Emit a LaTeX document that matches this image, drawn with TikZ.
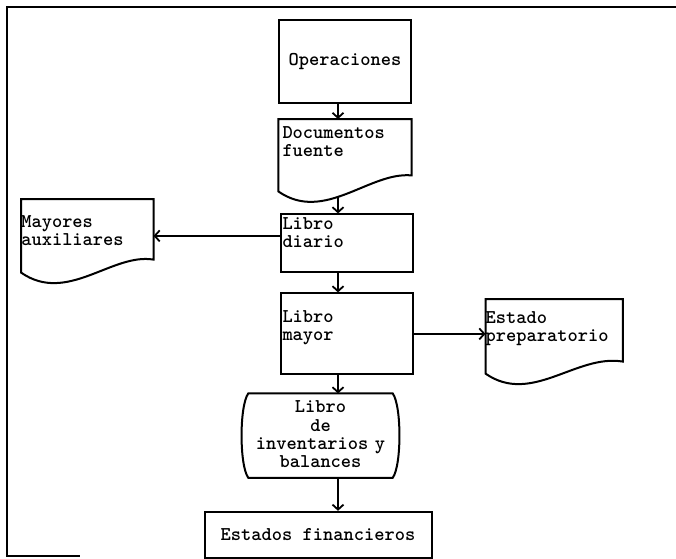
\documentclass[tikz,border=0pt]{standalone}
\usepackage{fontspec}
\usetikzlibrary{arrows.meta,positioning,calc}

% document symbol: straight top and sides, wavy bottom
\newcommand{\docoutline}[2]{%
  \draw[line] ($(#1.south east)+(0,-#2)$) -- (#1.north east) -- (#1.north west) -- (#1.south west)
    .. controls ($(#1.south west)+(46,32)$) and ($(#1.south west)+(91,-20)$) .. cycle;}

\begin{document}
\begin{tikzpicture}[
  x=1pt, y=-1pt,
  line/.style={line width=2pt},
  txt/.style={font=\ttfamily\bfseries\fontsize{19.5}{18.4}\selectfont},
  box/.style={txt, line, draw, rectangle, inner ysep=0pt, align=left},
  docbox/.style={txt, rectangle, inner ysep=0pt, inner xsep=0pt, align=left},
  arrow/.style={line, -{Straight Barb[length=5pt, width=11pt, line width=1.8pt]}}
]
\useasboundingbox (0,0) rectangle (676,558);

% frame of the scan
\draw[line] (676,7) -- (7,7) -- (7,556) -- (80,556);

\node[box, align=center, minimum width=132pt, minimum height=83pt] (ops) at (345,61.5) {Operaciones};
\node[docbox, text width=125pt, inner xsep=4pt, text height=19pt, text depth=53pt,
      below=15pt of ops] (docs) {Documentos\\fuente};
\node[box, text width=128pt, inner xsep=2pt, text height=15pt, text depth=43pt,
      below=22pt of docs, xshift=1.5pt] (diario) {Libro\\diario};
\node[box, text width=128pt, inner xsep=2pt, text height=29pt, text depth=52pt,
      below=19pt of diario] (mayor) {Libro\\mayor};
\node[docbox, text width=132pt, text height=28pt, text depth=45pt,
      left=126pt of diario, yshift=7.5pt] (mayores) {Mayores\\auxiliares};
\node[docbox, text width=137pt, text height=24pt, text depth=50pt,
      right=72pt of mayor, yshift=-2.5pt] (estado) {Estado\\preparatorio};
\node[txt, align=center, text width=162pt, inner sep=0pt, text height=19pt, text depth=65pt,
      below=18pt of mayor, xshift=-26pt] (inv) {Libro\\de\\inventarios y\\balances};
\node[box, align=center, minimum width=227pt, minimum height=46pt,
      below=33pt of inv, xshift=-2.5pt] (fin) {Estados financieros};

\docoutline{docs}{16}
\docoutline{mayores}{13}
\docoutline{estado}{12}
\draw[line] ($(inv.north west)+(9,0)$) -- ($(inv.north east)+(-9,0)$)
  .. controls ($(inv.east)+(0,-30)$) and ($(inv.east)+(0,30)$) .. ($(inv.south east)+(-9,0)$)
  -- ($(inv.south west)+(9,0)$)
  .. controls ($(inv.west)+(0,30)$) and ($(inv.west)+(0,-30)$) .. cycle;

\coordinate (spine) at (338,0);
\draw[arrow] (ops.south -| spine) -- (docs.north -| spine);
\draw[arrow, shorten <=6pt] (docs.south -| spine) -- (diario.north -| spine);
\draw[arrow] (diario.south -| spine) -- (mayor.north -| spine);
\draw[arrow] (mayor.south -| spine) -- (inv.north -| spine);
\draw[arrow] (inv.south -| spine) -- (fin.north -| spine);
\draw[arrow] (diario.west |- mayores.east) -- (mayores.east);
\draw[arrow] (mayor.east) -- (mayor.east -| estado.west);
\end{tikzpicture}
\end{document}
